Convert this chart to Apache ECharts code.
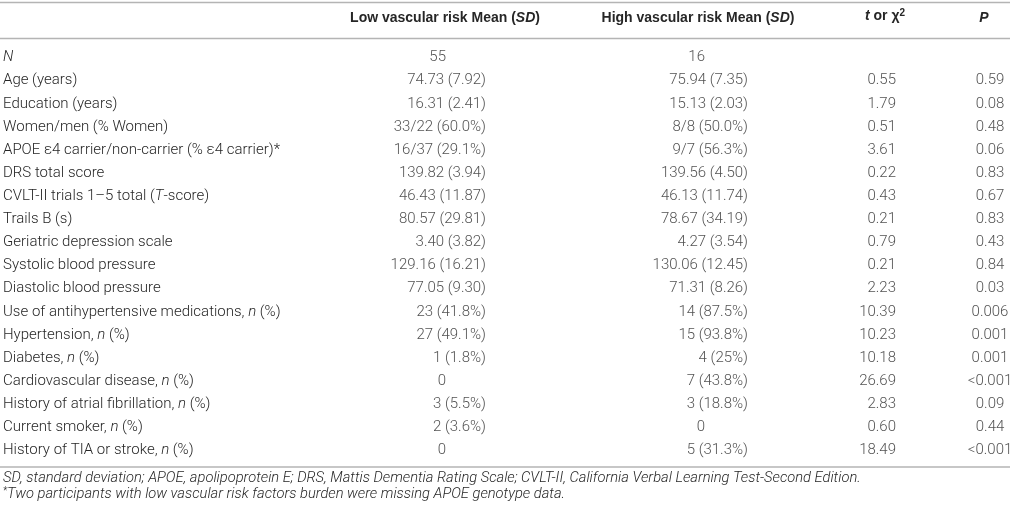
<!DOCTYPE html>
<html>
<head>
<meta charset="utf-8">
<title>Vascular risk table</title>
<script src="https://cdn.jsdelivr.net/npm/echarts/dist/echarts.min.js"></script>
<style>
	html, body { margin: 0; padding: 0; background: #fff; }
	#main { width: 1014px; height: 516px; }
</style>
</head>
<body>
<div id="main"></div>
<script>
'use strict';

// table content, row by row
const rowLabels = [
	'N',
	'Age (years)',
	'Education (years)',
	'Women/men (% Women)',
	'APOE ε4 carrier/non-carrier (% ε4 carrier)*',
	'DRS total score',
	'CVLT-II trials 1–5 total (T-score)',
	'Trails B (s)',
	'Geriatric depression scale',
	'Systolic blood pressure',
	'Diastolic blood pressure',
	'Use of antihypertensive medications, n (%)',
	'Hypertension, n (%)',
	'Diabetes, n (%)',
	'Cardiovascular disease, n (%)',
	'History of atrial fibrillation, n (%)',
	'Current smoker, n (%)',
	'History of TIA or stroke, n (%)'
];
const lowRisk = [
	'55', '74.73 (7.92)', '16.31 (2.41)', '33/22 (60.0%)', '16/37 (29.1%)', '139.82 (3.94)',
	'46.43 (11.87)', '80.57 (29.81)', '3.40 (3.82)', '129.16 (16.21)', '77.05 (9.30)',
	'23 (41.8%)', '27 (49.1%)', '1 (1.8%)', '0', '3 (5.5%)', '2 (3.6%)', '0'
];
const highRisk = [
	'16', '75.94 (7.35)', '15.13 (2.03)', '8/8 (50.0%)', '9/7 (56.3%)', '139.56 (4.50)',
	'46.13 (11.74)', '78.67 (34.19)', '4.27 (3.54)', '130.06 (12.45)', '71.31 (8.26)',
	'14 (87.5%)', '15 (93.8%)', '4 (25%)', '7 (43.8%)', '3 (18.8%)', '0', '5 (31.3%)'
];
const tValues = [
	'', '0.55', '1.79', '0.51', '3.61', '0.22', '0.43', '0.21', '0.79', '0.21', '2.23',
	'10.39', '10.23', '10.18', '26.69', '2.83', '0.60', '18.49'
];
const pValues = [
	'', '0.59', '0.08', '0.48', '0.06', '0.83', '0.67', '0.83', '0.43', '0.84', '0.03',
	'0.006', '0.001', '0.001', '<0.001', '0.09', '0.44', '<0.001'
];
const columnHeads = ['Low vascular risk Mean (SD)', 'High vascular risk Mean (SD)', 't or χ2', 'P'];
const footnotes = [
	'SD, standard deviation; APOE, apolipoprotein E; DRS, Mattis Dementia Rating Scale; CVLT-II, California Verbal Learning Test-Second Edition.',
	'*Two participants with low vascular risk factors burden were missing APOE genotype data.'
];

const FONT = 'Roboto';
const HEAD_FONT = 'Liberation Sans';
const INK = '#262626';
const RULE = '#b4b4b4';
const GRID_TOP = 46;
const GRID_BOTTOM = 54;

// each value column: where its header is centred and how far right the numbers end
const columns = [
	{ values: lowRisk, center: 445, width: 200, align: 'right', shift: 41, plainShift: 1 },
	{ values: highRisk, center: 698, width: 220, align: 'right', shift: 50, plainShift: 7 },
	{ values: tValues, center: 885, width: 70, align: 'right', shift: 11, plainShift: 11 },
	{ values: pValues, center: 984, width: 50, align: 'center', shift: 6, plainShift: 6 }
];

const bodyText = { fontFamily: FONT, fontWeight: 300, fontSize: 15, color: INK };
const italic = Object.assign({}, bodyText, { fontStyle: 'italic' });
const headBold = { fontFamily: HEAD_FONT, fontWeight: 'bold', fontSize: 14, color: INK };
const headBoldItalic = Object.assign({}, headBold, { fontStyle: 'italic' });
const headSup = Object.assign({}, headBold, { fontSize: 10, verticalAlign: 'top', padding: [0, 0, 7, 0] });

//row labels with the italic letters marked up
function rowLabelText(label) {
	if (label === 'N') return '{i|N}';
	return label
		.replace(', n (%)', ', {i|n} (%)')
		.replace('(T-score)', '({i|T}-score)');
}

//column headers with bold-italic symbols
function headText(head) {
	if (head === 'P') return '{bi|P}';
	if (head === 't or χ2') return '{bi|t}{b| or χ}{sup|2}';
	return '{b|' + head.replace('(SD)', '(}{bi|SD}{b|)') + '}';
}

var myChart = echarts.init(document.getElementById('main'), null, { renderer: 'canvas' });

const grids = [{ left: 3, width: 330, top: GRID_TOP, bottom: GRID_BOTTOM }];
const xAxes = [{ gridIndex: 0, type: 'value', show: false }];
const yAxes = [{
	gridIndex: 0,
	type: 'category',
	inverse: true,
	data: rowLabels,
	axisLine: { show: false },
	axisTick: { show: false },
	axisLabel: Object.assign({
		inside: true,
		margin: 0,
		interval: 0,
		formatter: rowLabelText,
		rich: { i: italic }
	}, bodyText)
}];
const series = [];

columns.forEach(function(col, c) {
	const g = c + 1;
	grids.push({ left: col.center - col.width / 2, width: col.width, top: GRID_TOP, bottom: GRID_BOTTOM });
	xAxes.push({
		gridIndex: g,
		type: 'category',
		position: 'top',
		data: [columnHeads[c]],
		axisLine: { show: false },
		axisTick: { show: false },
		axisLabel: {
			margin: 21,
			interval: 0,
			formatter: headText,
			rich: { b: headBold, bi: headBoldItalic, sup: headSup }
		}
	});
	yAxes.push({ gridIndex: g, type: 'category', inverse: true, data: rowLabels, show: false });

	const data = [];
	col.values.forEach(function(v, i) {
		if (v === '') return;
		const plain = v.indexOf('(') < 0;
		data.push({
			name: v,
			value: [0, i],
			label: { align: col.align, offset: [plain ? col.plainShift : col.shift, 0] }
		});
	});
	series.push({
		type: 'scatter',
		xAxisIndex: g,
		yAxisIndex: g,
		symbolSize: 0,
		silent: true,
		label: Object.assign({ show: true, position: 'inside', verticalAlign: 'middle', formatter: '{b}' }, bodyText),
		data: data
	});
});

// horizontal rules of the table
function rule(y) {
	return {
		type: 'line',
		shape: { x1: 0, y1: y, x2: 1010, y2: y },
		style: { stroke: RULE, lineWidth: 1.3 },
		silent: true
	};
}

var option = {
	backgroundColor: '#fff',
	animation: false,
	title: [
		{
			text: footnotes[0],
			left: 3,
			top: 471,
			padding: 0,
			textStyle: Object.assign({}, italic, { fontSize: 14.7 })
		},
		{
			text: '{s|*}' + footnotes[1].slice(1),
			left: 3,
			top: 486,
			padding: 0,
			textStyle: Object.assign({}, italic, {
				fontSize: 14.7,
				rich: { s: Object.assign({}, italic, { fontSize: 10, verticalAlign: 'top', padding: [0, 0, 6, 0] }) }
			})
		}
	],
	grid: grids,
	xAxis: xAxes,
	yAxis: yAxes,
	series: series,
	graphic: [rule(2.5), rule(38.5), rule(467)]
};

myChart.setOption(option);
</script>
</body>
</html>
